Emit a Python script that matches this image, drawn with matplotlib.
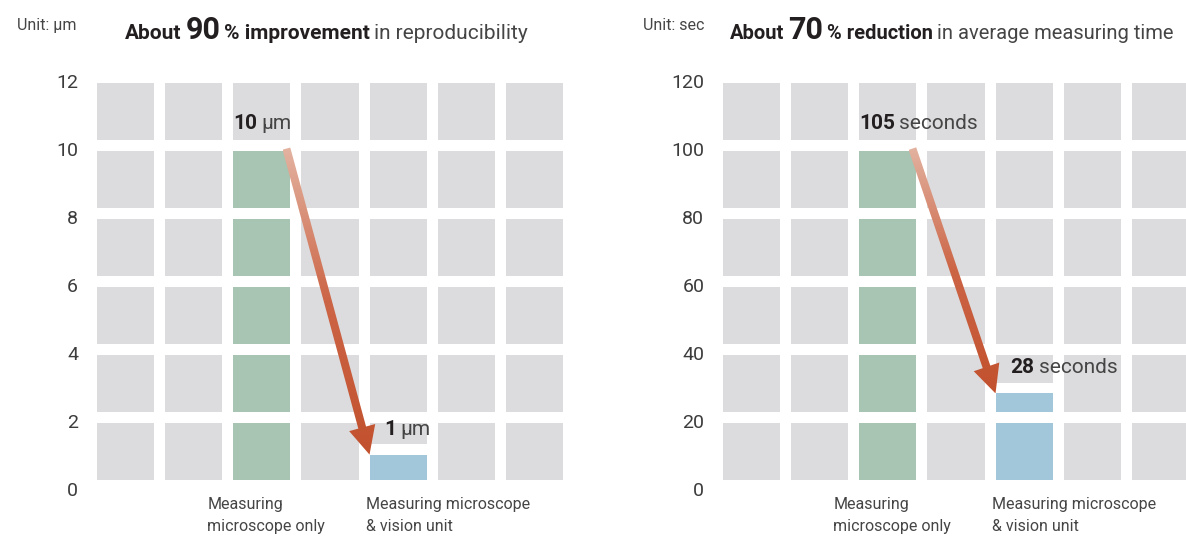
import matplotlib
matplotlib.use("Agg")
import matplotlib.pyplot as plt
import matplotlib.transforms as mtransforms
from matplotlib.patches import Rectangle, Polygon
from matplotlib.colors import LinearSegmentedColormap
import numpy as np

plt.rcParams['font.family'] = ['Roboto', 'DejaVu Sans']

# Data
categories = ["Measuring\nmicroscope only", "Measuring microscope\n& vision unit"]
bar_columns = [2, 4]          # which of the 7 tile columns hold the bars
n_columns = 7

repro_ticks = [0, 2, 4, 6, 8, 10, 12]
repro_values = [10, 1]        # um
repro_bars = [10, 1]

time_ticks = [0, 20, 40, 60, 80, 100, 120]
time_values = [105, 28]       # seconds
time_bars = [100, 28]         # green bar is drawn up to 100 in the picture

# Styles
tile_gray = "#dcdcde"
bar_colors = ["#a7c5b2", "#a3c7da"]
dark = "#231f20"
mid = "#454545"
half_w = 0.42
tile_lo, tile_hi = 0.125, 0.965
gap = 0.16
arrow_cmap = LinearSegmentedColormap.from_list("arrow", ["#c2512e", "#cc6546", "#e3b3a1"])

W, H = 1186, 540
fig = plt.figure(figsize=(W / 100, H / 100), dpi=100)
renderer = fig.canvas.get_renderer()


def rich_text(x, y, pieces):
    # pieces: (text, size, weight, color, gap after in px); x, y in pixels from bottom-left
    for s, size, weight, color, after in pieces:
        t = fig.text(x, y, s, transform=mtransforms.IdentityTransform(), fontsize=size,
                     fontweight=weight, color=color, ha="left", va="baseline", zorder=10)
        x += t.get_window_extent(renderer).width + after


def gradient_arrow(ax, start, end, sw=8, hw=27, hl=28):
    p0 = ax.transData.transform(start)
    p1 = ax.transData.transform(end)
    d = p1 - p0
    u = d / np.hypot(*d)
    nrm = np.array([-u[1], u[0]])
    neck = p1 - u * hl
    pts = [p0 + nrm * sw / 2, neck + nrm * sw / 2, neck + nrm * hw / 2, p1,
           neck - nrm * hw / 2, neck - nrm * sw / 2, p0 - nrm * sw / 2]
    data_pts = ax.transData.inverted().transform(np.array(pts))
    poly = Polygon(data_pts, closed=True, fc="none", ec="none")
    ax.add_patch(poly)
    grad = np.linspace(0, 1, 256).reshape(-1, 1)
    im = ax.imshow(grad, extent=[data_pts[:, 0].min(), data_pts[:, 0].max(),
                                 data_pts[:, 1].min(), data_pts[:, 1].max()],
                   origin="lower", cmap=arrow_cmap, aspect="auto", zorder=3,
                   interpolation="bilinear")
    im.set_clip_path(poly)


def draw_panel(ax, ticks, bars, values, unit):
    step = ticks[1] - ticks[0]
    ax.set_xlim(-half_w, n_columns - 1 + half_w)
    ax.set_ylim(0, ticks[-1])

    # background tiles
    for col in range(n_columns):
        for t in ticks[:-1]:
            y0, y1 = t + tile_lo * step, t + tile_hi * step
            ax.add_patch(Rectangle((col - half_w, y0), 2 * half_w, y1 - y0,
                                   fc=tile_gray, ec="none", zorder=1))

    # bars drawn into the tiles
    for col, h, c in zip(bar_columns, bars, bar_colors):
        for t in ticks[:-1]:
            y0, y1 = t + tile_lo * step, t + tile_hi * step
            if h <= y0:
                continue
            ax.add_patch(Rectangle((col - half_w, y0), 2 * half_w, min(h, y1) - y0,
                                   fc=c, ec="none", zorder=2))
            if h < y1:
                cut = min(h + gap * step, y1)
                ax.add_patch(Rectangle((col - half_w, h), 2 * half_w, cut - h,
                                       fc="white", ec="none", zorder=2))

    ax.set_yticks(ticks)
    ax.set_xticks([])
    ax.tick_params(axis="y", length=0, pad=13.5, labelsize=14, labelcolor="#3c3c3c")
    for sp in ax.spines.values():
        sp.set_visible(False)

    # category labels
    ax.annotate(categories[0], xy=(bar_columns[0] - 0.8, 0), xytext=(0, -6),
                textcoords="offset points", ha="left", va="top", fontsize=11.5,
                color=mid, linespacing=1.6)
    ax.annotate(categories[1], xy=(bar_columns[1] - half_w - 0.05, 0), xytext=(0, -6),
                textcoords="offset points", ha="left", va="top", fontsize=11.5,
                color=mid, linespacing=1.6)

    # arrow from first bar to second
    gradient_arrow(ax, (bar_columns[0] + 0.36, bars[0]), (bar_columns[1] - half_w, bars[1]))
    ax.set_xlim(-half_w, n_columns - 1 + half_w)
    ax.set_ylim(0, ticks[-1])

    # value labels
    for col, h, v, dx in zip(bar_columns, bars, values, [0.0, 0.22]):
        px, py = ax.transData.transform((col - half_w + dx, h))
        rich_text(px, py + 20, [(str(v), 15, "bold", dark, 4),
                                (unit, 15, "normal", mid, 0)])


ax1 = fig.add_axes([97 / W, 1 - 488.6 / H, 466 / W, 408 / H])
ax2 = fig.add_axes([723 / W, 1 - 488.6 / H, 466 / W, 408 / H])

draw_panel(ax1, repro_ticks, repro_bars, repro_values, "µm")
draw_panel(ax2, time_ticks, time_bars, time_values, "seconds")

# headings
rich_text(17, H - 30, [("Unit: µm", 11.5, "normal", mid, 0)])
rich_text(125, H - 39, [("About", 15, "bold", dark, 4), ("90", 22, "bold", dark, 4),
                        ("% improvement", 15, "bold", dark, 4),
                        ("in reproducibility", 15, "normal", mid, 0)])
rich_text(643, H - 30, [("Unit: sec", 11.5, "normal", mid, 0)])
rich_text(730, H - 39, [("About", 14.5, "bold", dark, 4), ("70", 22, "bold", dark, 4),
                        ("% reduction", 14.5, "bold", dark, 4),
                        ("in average measuring time", 14.5, "normal", mid, 0)])

fig.savefig("out.png", dpi=100)
